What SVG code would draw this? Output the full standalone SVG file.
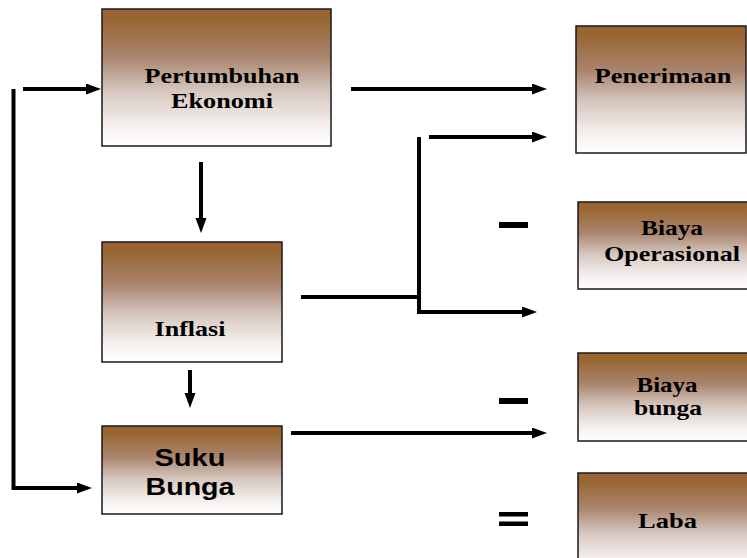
<svg xmlns="http://www.w3.org/2000/svg" width="747" height="558" viewBox="0 0 747 558">
  <defs>
    <linearGradient id="brownFade" x1="0" y1="0" x2="0" y2="1">
      <stop offset="0" stop-color="#996633"/>
      <stop offset="0.08" stop-color="#996633"/>
      <stop offset="0.35" stop-color="#a9846d"/>
      <stop offset="0.6" stop-color="#d6c7bf"/>
      <stop offset="0.85" stop-color="#f5f0ee"/>
      <stop offset="1" stop-color="#ffffff"/>
    </linearGradient>
    <marker id="arrow" markerUnits="userSpaceOnUse" markerWidth="16" markerHeight="12" refX="1" refY="5.5" orient="auto">
      <path d="M0,0 L15,5.5 L0,11 z" fill="#000"/>
    </marker>
    <style>
      .box { fill: url(#brownFade); stroke: #1a1a1a; stroke-width: 1.5; }
      .lbl { font-family: "Liberation Serif", "Times New Roman", serif; font-weight: bold; font-size: 21px; fill: #000; text-anchor: middle; }
      .lbl-sans { font-family: "Liberation Sans", Arial, sans-serif; font-weight: bold; font-size: 24px; fill: #000; text-anchor: middle; }
      .wire { fill: none; stroke: #000; stroke-width: 4; }
      .sign { fill: #000; }
    </style>
  </defs>

  <!-- left column -->
  <g id="pertumbuhan-ekonomi">
    <rect class="box" x="102" y="9" width="229" height="137"/>
    <text class="lbl" x="222" y="83" textLength="155" lengthAdjust="spacingAndGlyphs">Pertumbuhan</text>
    <text class="lbl" x="222" y="108" textLength="102" lengthAdjust="spacingAndGlyphs">Ekonomi</text>
  </g>
  <g id="inflasi">
    <rect class="box" x="102" y="242" width="180" height="120"/>
    <text class="lbl" x="190" y="336" textLength="71" lengthAdjust="spacingAndGlyphs">Inflasi</text>
  </g>
  <g id="suku-bunga">
    <rect class="box" x="102" y="426" width="180" height="88"/>
    <text class="lbl-sans" x="190" y="466" textLength="71" lengthAdjust="spacingAndGlyphs">Suku</text>
    <text class="lbl-sans" x="190" y="495" textLength="89" lengthAdjust="spacingAndGlyphs">Bunga</text>
  </g>

  <!-- right column -->
  <g id="penerimaan">
    <rect class="box" x="576" y="26" width="170" height="127"/>
    <text class="lbl" x="663" y="83" textLength="137" lengthAdjust="spacingAndGlyphs">Penerimaan</text>
  </g>
  <g id="biaya-operasional">
    <rect class="box" x="578" y="202" width="172" height="87"/>
    <text class="lbl" x="672" y="235" textLength="62" lengthAdjust="spacingAndGlyphs">Biaya</text>
    <text class="lbl" x="672" y="261" textLength="136" lengthAdjust="spacingAndGlyphs">Operasional</text>
  </g>
  <g id="biaya-bunga">
    <rect class="box" x="578" y="353" width="172" height="88"/>
    <text class="lbl" x="667" y="392" textLength="61" lengthAdjust="spacingAndGlyphs">Biaya</text>
    <text class="lbl" x="668" y="415" textLength="68" lengthAdjust="spacingAndGlyphs">bunga</text>
  </g>
  <g id="laba">
    <rect class="box" x="578" y="473" width="172" height="100"/>
    <text class="lbl" x="667.5" y="528" textLength="59" lengthAdjust="spacingAndGlyphs">Laba</text>
  </g>

  <!-- arithmetic signs between the right-hand boxes -->
  <g id="signs">
    <rect class="sign" x="499" y="222" width="29" height="6"/>
    <rect class="sign" x="499" y="398" width="29" height="6"/>
    <rect class="sign" x="499" y="512" width="29" height="4.5"/>
    <rect class="sign" x="499" y="521.5" width="29" height="4.5"/>
  </g>

  <!-- connectors -->
  <g id="connectors">
    <path class="wire" d="M351,89 H533" marker-end="url(#arrow)"/>
    <path class="wire" d="M23,89 H87" marker-end="url(#arrow)"/>
    <path class="wire" d="M13.5,89 V488 H78" marker-end="url(#arrow)"/>
    <path class="wire" d="M201,162 V219" marker-end="url(#arrow)"/>
    <path class="wire" d="M190,370 V394" marker-end="url(#arrow)"/>
    <path class="wire" d="M301,297 H419"/>
    <path class="wire" d="M419,137 V312 H523" marker-end="url(#arrow)"/>
    <path class="wire" d="M429,137 H533" marker-end="url(#arrow)"/>
    <path class="wire" d="M291,433 H533" marker-end="url(#arrow)"/>
  </g>
</svg>
